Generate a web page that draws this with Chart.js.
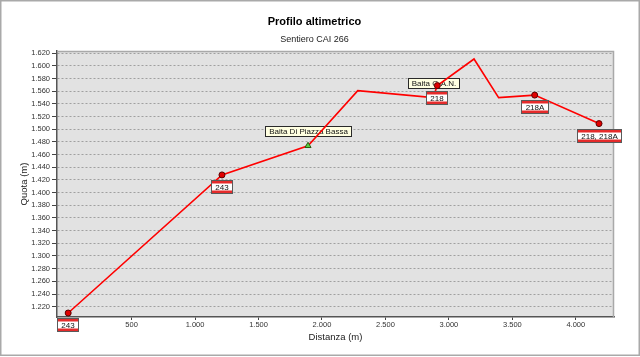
<!DOCTYPE html>
<html>
<head>
<meta charset="utf-8">
<script src="https://cdn.jsdelivr.net/npm/chart.js@4"></script>
<style>
html,body{margin:0;padding:0;background:#fff;}
#wrap{width:640px;height:357px;position:relative;}
</style>
</head>
<body>
<div id="wrap"><canvas id="c" width="640" height="357"></canvas></div>
<script>
// ---- data ----
const distances  = [0, 1212, 1890, 2282, 2875, 2909, 3198, 3392, 3676, 4183];
const elevations = [1210, 1428, 1474, 1561, 1550, 1569, 1611, 1550, 1554, 1509];
const signIndex  = [0, 1, 5, 8, 9];
const signLabels = ['243', '243', '218', '218A', '218, 218A'];
const hutIndex   = [2, 4];
const hutLabels  = ['Baita Di Piazza Bassa', 'Baita G.A.N.'];
const xTickValues = [500, 1000, 1500, 2000, 2500, 3000, 3500, 4000];
const yTickValues = [1220, 1240, 1260, 1280, 1300, 1320, 1340, 1360, 1380, 1400, 1420,
                     1440, 1460, 1480, 1500, 1520, 1540, 1560, 1580, 1600, 1620];
const titleText = 'Profilo altimetrico';
const subtitleText = 'Sentiero CAI 266';
const xTitle = 'Distanza (m)';
const yTitle = 'Quota (m)';

const FONT = "'Liberation Sans', Arial, sans-serif";
const fmt = v => String(v).replace(/\B(?=(\d{3})+(?!\d))/g, '.');

const profile = distances.map((d, i) => ({x: d, y: elevations[i]}));
const signPts = signIndex.map(i => ({x: distances[i], y: elevations[i]}));
const hutPts  = hutIndex.map(i => ({x: distances[i], y: elevations[i]}));

const framePlugin = {
  id: 'frame',
  beforeDraw(chart) {
    const {ctx, chartArea: a} = chart;
    ctx.save();
    ctx.fillStyle = '#fff';
    ctx.fillRect(0, 0, chart.width, chart.height);
    ctx.fillStyle = '#e2e2e2';
    ctx.fillRect(a.left, a.top, a.right - a.left, a.bottom - a.top);
    ctx.strokeStyle = '#a9a9a9';
    ctx.lineWidth = 1.5;
    ctx.strokeRect(0.75, 0.75, chart.width - 1.5, chart.height - 2.5);
    ctx.restore();
  },
  beforeDatasetsDraw(chart) {
    const {ctx, chartArea: a} = chart;
    const xs = chart.scales.x, ys = chart.scales.y;
    ctx.save();
    // plot top/right border
    ctx.strokeStyle = '#a9a9a9';
    ctx.lineWidth = 1.5;
    ctx.beginPath();
    ctx.moveTo(a.left, a.top + 0.5);
    ctx.lineTo(a.right - 0.5, a.top + 0.5);
    ctx.lineTo(a.right - 0.5, a.bottom);
    ctx.stroke();
    // hut labels (tooltip-like boxes)
    ctx.font = '8px ' + FONT;
    ctx.textBaseline = 'middle';
    ctx.textAlign = 'center';
    hutPts.forEach((p, k) => {
      const px = xs.getPixelForValue(p.x), py = ys.getPixelForValue(p.y);
      const w = Math.round(ctx.measureText(hutLabels[k]).width + 7), h = 10;
      const bx = Math.round(px - w / 2) + 0.5, by = Math.round(py - 10 - h) + 0.5;
      ctx.fillStyle = '#ffffe1';
      ctx.fillRect(bx, by, w, h);
      ctx.strokeStyle = '#2a2a2a';
      ctx.lineWidth = 1;
      ctx.strokeRect(bx, by, w, h);
      ctx.fillStyle = '#111';
      ctx.fillText(hutLabels[k], bx + w / 2, by + h / 2 + 0.5);
    });
    ctx.restore();
  },
  afterDatasetsDraw(chart) {
    const {ctx} = chart;
    const xs = chart.scales.x, ys = chart.scales.y;
    ctx.save();
    ctx.font = '8px ' + FONT;
    ctx.textBaseline = 'middle';
    ctx.textAlign = 'center';
    signPts.forEach((p, k) => {
      const px = xs.getPixelForValue(p.x), py = ys.getPixelForValue(p.y);
      const w = Math.round(ctx.measureText(signLabels[k]).width + 9), h = 14;
      const bx = Math.round(px - w / 2), by = Math.round(py + 5);
      ctx.fillStyle = '#5a5a5a';
      ctx.fillRect(bx, by, w, h);
      ctx.fillStyle = '#e52b2b';
      ctx.fillRect(bx + 1, by + 1, w - 2, h - 2);
      ctx.fillStyle = '#ffffff';
      ctx.fillRect(bx + 1, by + 3.5, w - 2, h - 7);
      ctx.fillStyle = '#111';
      ctx.fillText(signLabels[k], bx + w / 2, by + h / 2 + 0.5);
    });
    ctx.restore();
  }
};

new Chart(document.getElementById('c'), {
  type: 'scatter',
  data: {
    datasets: [
      {
        label: 'Segnavia',
        data: signPts,
        pointStyle: 'circle',
        pointRadius: 3,
        pointBackgroundColor: '#e00000',
        pointBorderColor: '#5a0000',
        pointBorderWidth: 1,
        showLine: false
      },
      {
        label: 'Rifugi',
        data: hutPts,
        pointStyle: 'triangle',
        pointRadius: 3.5,
        pointBackgroundColor: '#55d040',
        pointBorderColor: '#2a5a10',
        pointBorderWidth: 1,
        showLine: false
      },
      {
        label: 'Profilo',
        data: profile,
        showLine: true,
        borderColor: '#ff0000',
        borderWidth: 1.6,
        pointRadius: 0,
        fill: false,
        tension: 0
      }
    ]
  },
  options: {
    responsive: false,
    animation: false,
    events: [],
    layout: {padding: {left: 15, right: 26, top: 0, bottom: 15}},
    plugins: {
      legend: {display: false},
      tooltip: {enabled: false},
      title: {
        display: true, text: titleText, color: '#000',
        font: {family: FONT, size: 11, weight: 'bold', lineHeight: 1.2},
        padding: {top: 15, bottom: 4}
      },
      subtitle: {
        display: true, text: subtitleText, color: '#222',
        font: {family: FONT, size: 9, lineHeight: 1.2},
        padding: {top: 2, bottom: 6}
      }
    },
    scales: {
      x: {
        type: 'linear',
        min: -88, max: 4301,
        afterBuildTicks: s => { s.ticks = xTickValues.map(v => ({value: v})); },
        afterFit: s => { s.height = 25; },
        ticks: {
          autoSkip: false, maxRotation: 0, padding: 1, color: '#333',
          font: {family: FONT, size: 7.5, lineHeight: 1},
          callback: v => fmt(v)
        },
        grid: {drawOnChartArea: false, drawTicks: true, tickLength: 3, tickColor: '#444', tickWidth: 1},
        border: {display: true, color: '#555', width: 1.5},
        title: {display: true, text: xTitle, color: '#222',
                font: {family: FONT, size: 9.5, lineHeight: 1}, padding: {top: 0, bottom: 0}}
      },
      y: {
        type: 'linear',
        min: 1203.7, max: 1623.6,
        afterBuildTicks: s => { s.ticks = yTickValues.map(v => ({value: v})); },
        afterFit: s => { s.width = 42; },
        ticks: {
          autoSkip: false, padding: 2, color: '#333',
          font: {family: FONT, size: 7.5, lineHeight: 1},
          callback: v => fmt(v)
        },
        grid: {color: '#a0a0a0', lineWidth: 1, drawTicks: true, tickLength: 5,
               tickColor: '#444', tickWidth: 1, tickBorderDash: []},
        border: {display: true, color: '#555', width: 1.5, dash: [2, 2]},
        title: {display: true, text: yTitle, color: '#222',
                font: {family: FONT, size: 9.5, lineHeight: 1}, padding: {top: 5, bottom: 0}}
      }
    }
  },
  plugins: [framePlugin]
});
</script>
</body>
</html>
